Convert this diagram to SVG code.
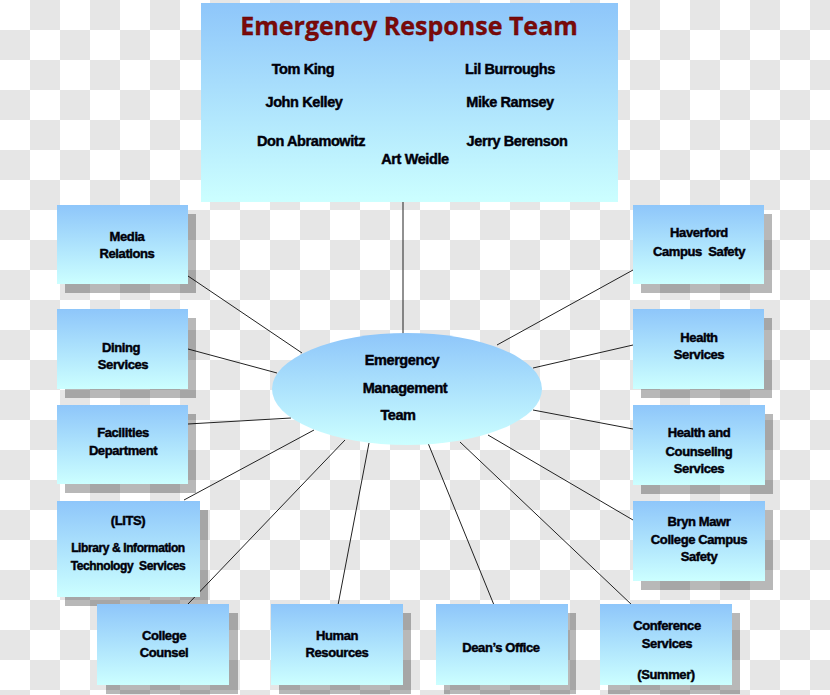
<svg xmlns="http://www.w3.org/2000/svg" width="830" height="695" viewBox="0 0 830 695">
<defs>
<pattern id="chk" width="60" height="60" patternUnits="userSpaceOnUse">
<rect width="60" height="60" fill="#ffffff"/>
<rect x="30" y="0" width="30" height="30" fill="#e6e6e6"/>
<rect x="0" y="30" width="30" height="30" fill="#e6e6e6"/>
</pattern>
<linearGradient id="g" x1="0" y1="0" x2="0" y2="1">
<stop offset="0" stop-color="#8ec6fa"/>
<stop offset="1" stop-color="#ccffff"/>
</linearGradient>
<style>
.box{fill:url(#g);}
.sh{fill:#000;fill-opacity:0.28;}
.t{font-family:"Liberation Sans",Arial,sans-serif;font-weight:bold;font-size:13px;fill:#00000a;text-anchor:middle;letter-spacing:-0.4px;stroke:#00000a;stroke-width:0.45px;}
.n{font-size:14.5px;}
.title{font-family:"Open Sans","Liberation Sans",sans-serif;font-weight:bold;font-size:25px;fill:#7a0a0a;text-anchor:middle;stroke:#5a0000;stroke-width:0.3px;}
.c{stroke:#222;stroke-width:1;fill:none;}
</style>
</defs>
<rect width="830" height="695" fill="url(#chk)"/>

<g id="connectors">
<line class="c" x1="403" y1="202" x2="403" y2="334"/>
<line class="c" x1="188" y1="276" x2="302" y2="353"/>
<line class="c" x1="188" y1="349" x2="277" y2="373"/>
<line class="c" x1="188" y1="424" x2="291" y2="418"/>
<line class="c" x1="184" y1="500" x2="314" y2="430"/>
<line class="c" x1="188" y1="604" x2="345" y2="440"/>
<line class="c" x1="338" y1="605" x2="369" y2="443"/>
<line class="c" x1="494" y1="605" x2="428" y2="443"/>
<line class="c" x1="632" y1="605" x2="460" y2="442"/>
<line class="c" x1="633" y1="520" x2="488" y2="435"/>
<line class="c" x1="633" y1="429" x2="533" y2="410"/>
<line class="c" x1="633" y1="345" x2="533" y2="368"/>
<line class="c" x1="633" y1="270" x2="497" y2="345"/>
</g>

<g id="ert">
<rect class="box" x="201" y="3" width="417" height="199"/>
<text class="title" x="409" y="35">Emergency Response Team</text>
<text class="t n" x="303" y="74">Tom King</text>
<text class="t n" x="510" y="74">Lil Burroughs</text>
<text class="t n" x="304" y="107">John Kelley</text>
<text class="t n" x="510" y="107">Mike Ramsey</text>
<text class="t n" x="311" y="146">Don Abramowitz</text>
<text class="t n" x="517" y="146">Jerry Berenson</text>
<text class="t n" x="415" y="164">Art Weidle</text>
</g>

<g id="emt">
<ellipse class="box" cx="407" cy="389" rx="135" ry="56"/>
<text class="t n" x="402" y="365">Emergency</text>
<text class="t n" x="405" y="393">Management</text>
<text class="t n" x="398" y="420">Team</text>
</g>

<g id="media">
<rect class="sh" x="65" y="214" width="131" height="79"/>
<rect class="box" x="57" y="205" width="131" height="79"/>
<text class="t" x="127" y="241">Media</text>
<text class="t" x="127" y="258">Relations</text>
</g>

<g id="dining">
<rect class="sh" x="65" y="318" width="131" height="80"/>
<rect class="box" x="57" y="309" width="131" height="80"/>
<text class="t" x="121" y="352">Dining</text>
<text class="t" x="123" y="369">Services</text>
</g>

<g id="facilities">
<rect class="sh" x="65" y="414" width="131" height="79"/>
<rect class="box" x="57" y="405" width="131" height="79"/>
<text class="t" x="123" y="437">Facilities</text>
<text class="t" x="123" y="455">Department</text>
</g>

<g id="lits">
<rect class="sh" x="65" y="510" width="143" height="96"/>
<rect class="box" x="57" y="501" width="143" height="96"/>
<text class="t" x="128" y="525">(LITS)</text>
<text class="t" x="128" y="552" style="font-size:12px">Library &amp; Information</text>
<text class="t" x="128" y="570" style="font-size:12px" xml:space="preserve">Technology  Services</text>
</g>

<g id="counsel">
<rect class="sh" x="106" y="613" width="132" height="81"/>
<rect class="box" x="97" y="604" width="132" height="81"/>
<text class="t" x="164" y="640">College</text>
<text class="t" x="164" y="657">Counsel</text>
</g>

<g id="hr">
<rect class="sh" x="279" y="613" width="132" height="81"/>
<rect class="box" x="271" y="604" width="132" height="81"/>
<text class="t" x="337" y="640">Human</text>
<text class="t" x="337" y="657">Resources</text>
</g>

<g id="dean">
<rect class="sh" x="444" y="613" width="132" height="81"/>
<rect class="box" x="436" y="604" width="132" height="81"/>
<text class="t" x="501" y="652">Dean’s Office</text>
</g>

<g id="conference">
<rect class="sh" x="608" y="613" width="132" height="81"/>
<rect class="box" x="600" y="604" width="132" height="81"/>
<text class="t" x="667" y="630">Conference</text>
<text class="t" x="667" y="648">Services</text>
<text class="t" x="666" y="679">(Summer)</text>
</g>

<g id="haverford">
<rect class="sh" x="641" y="214" width="131" height="79"/>
<rect class="box" x="633" y="205" width="131" height="79"/>
<text class="t" x="699" y="237">Haverford</text>
<text class="t" x="699" y="256" xml:space="preserve">Campus  Safety</text>
</g>

<g id="health">
<rect class="sh" x="641" y="318" width="131" height="80"/>
<rect class="box" x="633" y="309" width="131" height="80"/>
<text class="t" x="699" y="342">Health</text>
<text class="t" x="699" y="359">Services</text>
</g>

<g id="counseling">
<rect class="sh" x="641" y="414" width="132" height="80"/>
<rect class="box" x="633" y="405" width="132" height="80"/>
<text class="t" x="699" y="437">Health and</text>
<text class="t" x="699" y="456">Counseling</text>
<text class="t" x="699" y="473">Services</text>
</g>

<g id="brynmawr">
<rect class="sh" x="641" y="510" width="132" height="80"/>
<rect class="box" x="633" y="501" width="132" height="80"/>
<text class="t" x="699" y="526">Bryn Mawr</text>
<text class="t" x="699" y="544">College Campus</text>
<text class="t" x="699" y="561">Safety</text>
</g>
</svg>
